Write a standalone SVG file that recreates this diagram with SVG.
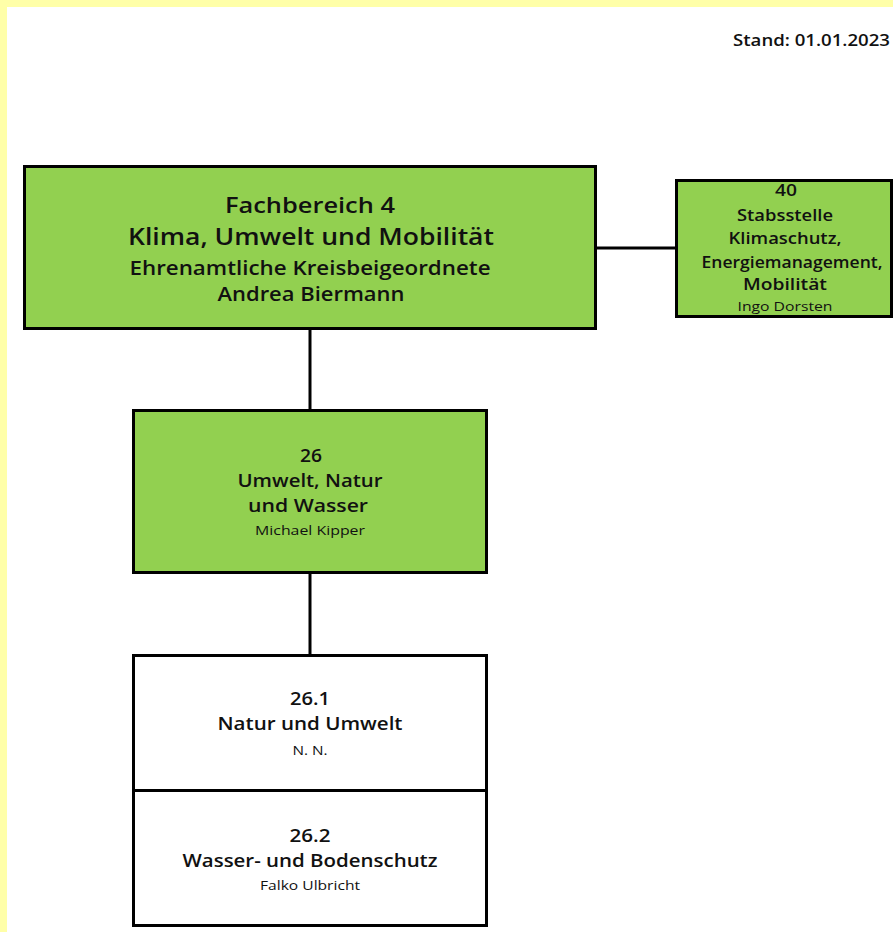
<svg xmlns="http://www.w3.org/2000/svg" width="893" height="932" viewBox="0 0 893 932">
<style>
.box{stroke:#000;stroke-width:3}
.g{fill:#92d050}
.w{fill:#fff}
.line{stroke:#000;stroke-width:3;fill:none}
text{font-family:"Open Sans","Noto Sans",sans-serif;text-anchor:middle;fill:#111}
.b{font-weight:600}
.n{font-weight:400}
</style>
<rect x="0" y="0" width="893" height="932" fill="#ffffa8"/>
<rect x="7" y="7" width="886" height="925" fill="#fff"/>
<text x="890" y="46" class="b" font-size="16" style="text-anchor:end" textLength="157" lengthAdjust="spacingAndGlyphs">Stand: 01.01.2023</text>
<g id="connectors">
<line class="line" x1="596" y1="248" x2="676" y2="248"/>
<line class="line" x1="310" y1="329" x2="310" y2="410"/>
<line class="line" x1="310" y1="573" x2="310" y2="655"/>
</g>
<g id="fb4">
<rect class="box g" x="24.5" y="166.5" width="571" height="162"/>
<text x="310" y="213" class="b" font-size="22" textLength="170" lengthAdjust="spacingAndGlyphs">Fachbereich 4</text>
<text x="311" y="245" class="b" font-size="24" textLength="366" lengthAdjust="spacingAndGlyphs">Klima, Umwelt und Mobilität</text>
<text x="310" y="275" class="b" font-size="19" textLength="361" lengthAdjust="spacingAndGlyphs">Ehrenamtliche Kreisbeigeordnete</text>
<text x="311" y="301" class="b" font-size="19" textLength="187" lengthAdjust="spacingAndGlyphs">Andrea Biermann</text>
</g>
<g id="n40">
<rect class="box g" x="676.5" y="180.5" width="215" height="136"/>
<text x="786" y="196" class="b" font-size="16" textLength="22" lengthAdjust="spacingAndGlyphs">40</text>
<text x="785" y="221" class="b" font-size="16" textLength="96" lengthAdjust="spacingAndGlyphs">Stabsstelle</text>
<text x="785" y="244" class="b" font-size="16" textLength="113" lengthAdjust="spacingAndGlyphs">Klimaschutz,</text>
<text x="792" y="268" class="b" font-size="16" textLength="181" lengthAdjust="spacingAndGlyphs">Energiemanagement,</text>
<text x="785" y="290" class="b" font-size="16" textLength="84" lengthAdjust="spacingAndGlyphs">Mobilität</text>
<text x="785" y="311" class="n" font-size="13" textLength="95" lengthAdjust="spacingAndGlyphs">Ingo Dorsten</text>
</g>
<g id="n26">
<rect class="box g" x="133.5" y="410.5" width="353" height="162"/>
<text x="311" y="462" class="b" font-size="18" textLength="22" lengthAdjust="spacingAndGlyphs">26</text>
<text x="310" y="487" class="b" font-size="18" textLength="145" lengthAdjust="spacingAndGlyphs">Umwelt, Natur</text>
<text x="308" y="512" class="b" font-size="18" textLength="120" lengthAdjust="spacingAndGlyphs">und Wasser</text>
<text x="310" y="535" class="n" font-size="13.5" textLength="110" lengthAdjust="spacingAndGlyphs">Michael Kipper</text>
</g>
<g id="n26_1">
<rect class="box w" x="133.5" y="655.5" width="353" height="135"/>
<text x="310" y="705" class="b" font-size="18" textLength="40" lengthAdjust="spacingAndGlyphs">26.1</text>
<text x="310" y="730" class="b" font-size="18" textLength="185" lengthAdjust="spacingAndGlyphs">Natur und Umwelt</text>
<text x="310" y="755" class="n" font-size="13" textLength="35" lengthAdjust="spacingAndGlyphs">N. N.</text>
</g>
<g id="n26_2">
<rect class="box w" x="133.5" y="790.5" width="353" height="135"/>
<text x="310" y="842" class="b" font-size="18" textLength="41" lengthAdjust="spacingAndGlyphs">26.2</text>
<text x="310" y="867" class="b" font-size="18" textLength="255" lengthAdjust="spacingAndGlyphs">Wasser- und Bodenschutz</text>
<text x="310" y="890" class="n" font-size="13.5" textLength="100" lengthAdjust="spacingAndGlyphs">Falko Ulbricht</text>
</g>
</svg>
